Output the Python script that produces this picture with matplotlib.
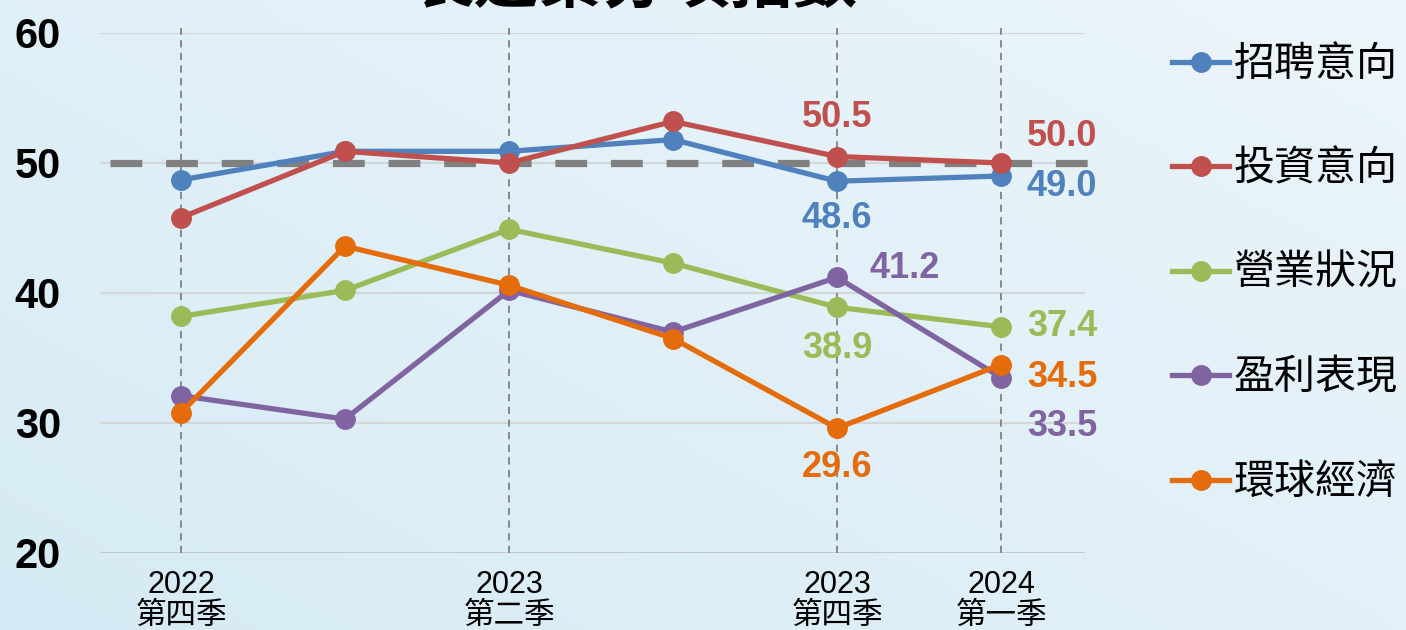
import numpy as np
import matplotlib.pyplot as plt

plt.rcParams['font.family'] = ['Liberation Sans', 'Noto Sans CJK TC', 'DejaVu Sans']

# 資料
quarters = ['2022\n第四季', '2023\n第一季', '2023\n第二季', '2023\n第三季', '2023\n第四季', '2024\n第一季']
tick_pos = [0, 2, 4, 5]
tick_labels = ['2022\n第四季', '2023\n第二季', '2023\n第四季', '2024\n第一季']

hiring = [48.7, 50.9, 50.9, 51.8, 48.6, 49.0]
invest = [45.8, 50.9, 50.0, 53.2, 50.5, 50.0]
business = [38.2, 40.2, 44.9, 42.3, 38.9, 37.4]
profit = [32.1, 30.3, 40.2, 37.0, 41.2, 33.5]
economy = [30.8, 43.6, 40.6, 36.5, 29.6, 34.5]

names = ['招聘意向', '投資意向', '營業狀況', '盈利表現', '環球經濟']
series = [hiring, invest, business, profit, economy]
colors = ['#4f81bd', '#c0504d', '#9bbb59', '#8064a2', '#e46c0a']

# 標籤位置 (像素偏移): 系列, 點, dx, dy
labels = [
    (1, 4, 0, 39), (0, 4, 0, -37),
    (1, 5, 61, 26), (0, 5, 61, -11),
    (3, 4, 68, 9), (2, 4, 0, -41),
    (2, 5, 61, 0), (4, 5, 61, -13),
    (3, 5, 61, -49), (4, 4, 0, -39),
]

fig = plt.figure(figsize=(14.06, 6.3), dpi=100)

# 背景漸層
bg = fig.add_axes([0, 0, 1, 1], zorder=-10)
gx, gy = np.meshgrid(np.linspace(0, 1, 200), np.linspace(0, 1, 100))
t = np.clip(0.55 * gx + 0.45 * (1 - gy), 0, 1)
c0 = np.array([214, 235, 245]) / 255
c1 = np.array([236, 245, 250]) / 255
img = c0[None, None, :] * (1 - t[..., None]) + c1[None, None, :] * t[..., None]
bg.imshow(img, aspect='auto', extent=[0, 1, 0, 1])
bg.axis('off')

ax = fig.add_axes([100 / 1406, 77 / 630, 985 / 1406, 520 / 630])
ax.patch.set_alpha(0)
x = np.arange(len(quarters))

for yv in [30, 40, 50, 60]:
    ax.axhline(yv, color='#d4d6d8', lw=1.6, zorder=1)
ax.axhline(20, color='#bcbec0', lw=1.8, zorder=1)
for xp in tick_pos:
    ax.plot([xp, xp], [20, 60.4], color='#808080', lw=1.3, ls=(0, (4, 3)), zorder=2, clip_on=False)

ax.plot([-0.43, 5.56], [50, 50], color='#808080', lw=5.2, ls=(0, (4.4, 3.3)), zorder=2,
        solid_capstyle='butt', clip_on=False)

for vals, name, c in zip(series, names, colors):
    ax.plot(x, vals, color=c, lw=3.8, marker='o', markersize=14, label=name, zorder=3, clip_on=False)

for si, pi, dx, dy in labels:
    ax.annotate(f'{series[si][pi]:.1f}', (x[pi], series[si][pi]), xytext=(dx, dy),
                textcoords='offset pixels', ha='center', va='center',
                fontsize=26, fontweight='bold', color=colors[si], zorder=4)

ax.set_xlim(-0.494, 5.512)
ax.set_ylim(20, 60)
ax.set_yticks([20, 30, 40, 50, 60])
ax.set_yticklabels(['20', '30', '40', '50', '60'], fontsize=30, fontweight='bold')
ax.set_xticks(tick_pos)
ax.set_xticklabels(tick_labels, fontsize=22, linespacing=1.05)
ax.tick_params(axis='y', length=0, pad=28)
ax.tick_params(axis='x', length=0, pad=12)
for s in ax.spines.values():
    s.set_visible(False)

fig.text(635 / 1406, 1 - 16 / 630, '製造業分項指數', ha='center', va='bottom',
         fontsize=46, fontweight='bold', family=['Noto Sans CJK TC'])

fig.legend(loc='upper left', bbox_to_anchor=(1172 / 1406, 1 - 44 / 630), frameon=False,
           prop={'family': ['Noto Sans CJK TC'], 'size': 29.5}, handlelength=1.4,
           handletextpad=0.1, labelspacing=1.55, borderpad=0, borderaxespad=0)

fig.savefig('out.png', dpi=100)
